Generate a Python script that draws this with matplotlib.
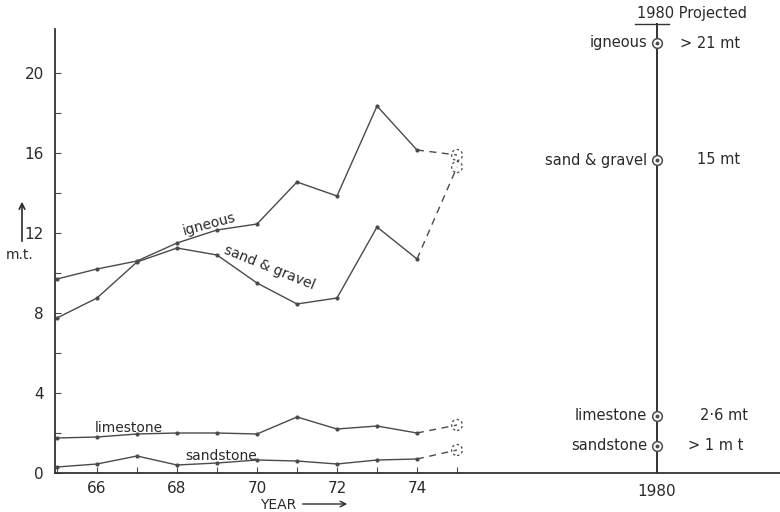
import numpy as np
import matplotlib.pyplot as plt
from matplotlib.patches import Ellipse

plt.rcParams['font.family'] = ['DejaVu Sans']

# data (million tonnes)
years = [65, 66, 67, 68, 69, 70, 71, 72, 73, 74]
igneous = [9.7, 10.2, 10.6, 11.5, 12.15, 12.45, 14.55, 13.85, 18.35, 16.15]
sand_gravel = [7.75, 8.75, 10.55, 11.25, 10.9, 9.5, 8.45, 8.75, 12.3, 10.7]
limestone = [1.75, 1.8, 1.95, 2.0, 2.0, 1.95, 2.8, 2.2, 2.35, 2.0]
sandstone = [0.3, 0.45, 0.85, 0.4, 0.5, 0.65, 0.6, 0.45, 0.65, 0.7]

# 1975 estimates (dashed)
est_year = 75
est_vals = [15.9, 15.3, 2.4, 1.15]

# 1980 projections
proj_year = 80
proj_names = ['igneous', 'sand & gravel', 'limestone', 'sandstone']
proj_vals = [21.5, 15.65, 2.85, 1.35]
proj_text = ['> 21 mt', '15 mt', '2\u00b76 mt', '> 1 m t']

col = '#4a4a4a'
tcol = '#2a2a2a'

fig = plt.figure(figsize=(7.8, 5.12), dpi=100)
ax = fig.add_axes([55/780, 39/512, 725/780, 470/512])
ax.set_xlim(64.95, 83.075)
ax.set_ylim(0, 23.5)

series = [igneous, sand_gravel, limestone, sandstone]
for s, ev in zip(series, est_vals):
    ax.plot(years, s, color=col, lw=1.0, marker='o', ms=2)
    ax.plot([years[-1], est_year], [s[-1], ev], color=col, lw=1.0, ls=(0, (5, 4)))
    ax.add_patch(Ellipse((est_year, ev), 0.27, 0.55, fill=False, ec=col,
                         lw=0.9, ls=(0, (2, 2))))

# line labels
ax.text(68.8, 12.45, 'igneous', rotation=15, fontsize=10, color=tcol,
        ha='center', va='center')
ax.text(70.3, 10.25, 'sand & gravel', rotation=-22, fontsize=10, color=tcol,
        ha='center', va='center')
ax.text(66.8, 2.25, 'limestone', fontsize=10, color=tcol, ha='center', va='center')
ax.text(69.1, 0.85, 'sandstone', fontsize=10, color=tcol, ha='center', va='center')

# 1980 projection column
ax.plot([proj_year, proj_year], [0, 22.45], color='#333', lw=1.4)
ax.plot([79.45, 80.3], [22.45, 22.45], color='#333', lw=1.0)
ax.text(79.5, 22.6, '1980 Projected', fontsize=10.5, color=tcol, ha='left', va='bottom')
ax.plot([proj_year] * 4, proj_vals, ls='none', marker='o', ms=7, mfc='white',
        mec=col, mew=1.1)
ax.plot([proj_year] * 4, proj_vals, ls='none', marker='o', ms=1.8, color=col)
text_x = [80.575, 81.0, 81.075, 80.775]
for n, v, t, tx in zip(proj_names, proj_vals, proj_text, text_x):
    ax.text(79.75, v, n, fontsize=10.5, color=tcol, ha='right', va='center')
    ax.text(tx, v, t, fontsize=10.5, color=tcol, ha='left', va='center')

# axes styling
for sp in ['top', 'right']:
    ax.spines[sp].set_visible(False)
ax.spines['left'].set_bounds(0, 22.2)
ax.spines['left'].set_color('#333')
ax.spines['bottom'].set_color('#333')
ax.spines['left'].set_linewidth(1.3)
ax.spines['bottom'].set_linewidth(1.3)

ax.set_xticks(np.arange(65, 76))
ax.set_xticklabels(['', '66', '', '68', '', '70', '', '72', '', '74', ''])
ax.set_yticks(np.arange(0, 22, 2))
ax.set_yticklabels(['0', '', '4', '', '8', '', '12', '', '16', '', '20'])
ax.tick_params(direction='in', length=4, color=col, labelsize=11, labelcolor=tcol)
ax.tick_params(axis='x', pad=6)
ax.tick_params(axis='y', pad=8)
ax.text(proj_year, -0.55, '1980', fontsize=11, color=tcol, ha='center', va='top')

# axis titles
fig.text(296/780, 1 - 505/512, 'YEAR', fontsize=10, color=tcol, ha='right', va='center')
ax.annotate('', xy=(350/780, 1 - 504/512), xytext=(300/780, 1 - 504/512),
            xycoords='figure fraction', textcoords='figure fraction',
            annotation_clip=False,
            arrowprops=dict(arrowstyle='->', color=tcol, lw=1.0))
fig.text(20/780, 1 - 255/512, 'm.t.', fontsize=10, color=tcol, ha='center', va='center')
ax.annotate('', xy=(22/780, 1 - 199/512), xytext=(22/780, 1 - 244/512),
            xycoords='figure fraction', textcoords='figure fraction',
            annotation_clip=False,
            arrowprops=dict(arrowstyle='->', color=tcol, lw=1.2))

fig.savefig('out.png', dpi=100)
